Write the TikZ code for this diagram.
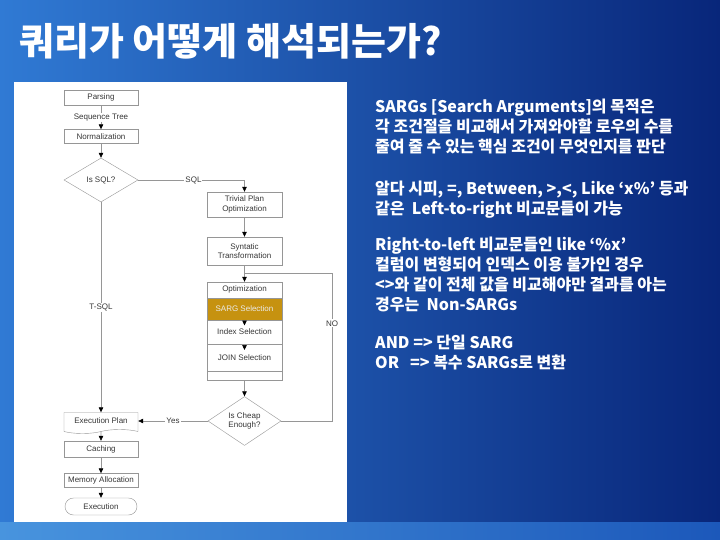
\documentclass[tikz,border=0pt]{standalone}
\usepackage{fontspec}
\newfontfamily\flowfont{Liberation Sans}
\newfontfamily\krfont{Noto Sans CJK KR}
\usetikzlibrary{positioning,shapes.geometric,shapes.symbols,shapes.misc,arrows.meta}

\definecolor{bgleft}{RGB}{48,122,212}
\definecolor{bgright}{RGB}{8,38,122}
\definecolor{stripleft}{RGB}{72,148,222}
\definecolor{stripright}{RGB}{28,88,186}
\definecolor{flowgray}{RGB}{150,150,150}
\definecolor{flowtext}{RGB}{55,55,55}
\definecolor{sarggold}{RGB}{198,146,16}

\tikzset{
  flowbox/.style={draw=flowgray,fill=white,minimum width=74pt,minimum height=15pt,
    inner sep=1pt,align=center,text=flowtext,font=\flowfont\fontsize{8}{9.5}\selectfont},
  flowdia/.style={flowbox,diamond,minimum width=74pt,minimum height=44pt,inner sep=0pt},
  flowdoc/.style={flowbox,tape,tape bend top=none,tape bend height=4pt},
  flowlbl/.style={fill=white,inner sep=1pt,text=flowtext,font=\flowfont\fontsize{8}{9.5}\selectfont},
  flowline/.style={draw=flowgray,line width=0.6pt},
  flowarr/.style={flowline,-{Triangle[length=5pt,width=4.5pt,color=black]}},
  krtxt/.style={inner sep=0pt,text=white,align=left,font=\krfont\bfseries\fontsize{16}{20}\selectfont}
}

\begin{document}
\begin{tikzpicture}[x=1pt,y=-1pt]
  % slide background
  \shade[left color=bgleft,right color=bgright] (0,0) rectangle (720,540);
  \shade[left color=stripleft,right color=stripright] (0,522) rectangle (720,540);
  \useasboundingbox (0,0) rectangle (720,540);

  % title
  \node[anchor=west,inner sep=0pt,text=white,font=\krfont\bfseries\fontsize{38}{38}\selectfont]
    (title) at (19,41) {쿼리가 어떻게 해석되는가?};

  % white panel
  \fill[white] (14,82) rectangle (347,522);

  % flow chart
  \node[flowbox] (parse) at (101,97.5) {Parsing};
  \node[flowbox,minimum height=14pt] (norm) at (101,136.5) {Normalization};
  \node[flowdia] (issql) at (101,180) {Is SQL?};
  \node[flowbox,minimum width=75pt,minimum height=25pt] (trivial) at (244.5,204.5)
    {Trivial Plan\\Optimization};
  \node[flowbox,minimum width=75pt,minimum height=28pt] (syntatic) at (244.5,251)
    {Syntatic\\Transformation};
  \node[flowbox,minimum width=75pt,minimum height=98pt] (optbox) at (244.5,331) {};
  \node[flowlbl] (optlbl) at (244.5,289.5) {Optimization};
  \node[flowbox,fill=sarggold,text=white!92!black,minimum width=75pt,minimum height=22pt]
    (sarg) at (244.5,309) {SARG Selection};
  \node[flowbox,minimum width=75pt,minimum height=24pt] (index) at (244.5,332)
    {Index Selection};
  \node[flowbox,minimum width=75pt,minimum height=27pt] (join) at (244.5,357.5)
    {JOIN Selection};
  \node[flowdia,minimum width=73pt] (cheap) at (244.5,421) {Is Cheap\\Enough?};
  \node[flowdoc,minimum height=21pt] (plan) at (101,421) {Execution Plan};
  \node[flowbox,minimum height=16pt] (cache) at (101,449) {Caching};
  \node[flowbox,minimum height=14pt] (memory) at (101,480.5) {Memory Allocation};
  \node[flowbox,rounded rectangle,minimum height=17pt] (exec) at (101,506.5) {Execution};

  \coordinate (nojoin) at (244.5,273);
  \coordinate (nocorner) at (332,273);

  \draw[flowarr] (parse) -- node[flowlbl]{Sequence Tree} (norm);
  \draw[flowarr] (norm) -- (issql);
  \draw[flowarr] (issql.east) -| node[flowlbl,pos=0.26]{SQL} (trivial.north);
  \draw[flowarr] (issql.south) -- node[flowlbl]{T-SQL} (plan.north);
  \draw[flowarr] (trivial) -- (syntatic);
  \draw[flowarr] (syntatic) -- (optbox);
  \draw[flowarr,shorten >=6.5pt] (sarg.south) -- (index.center);
  \draw[flowarr,shorten >=7.5pt] (index.south) -- (join.center);
  \draw[flowarr] (optbox) -- (cheap);
  \draw[flowarr] (cheap.west) -- node[flowlbl]{Yes} (plan.east);
  \draw[flowline] (cheap.east) -| node[flowlbl,pos=0.83]{NO} (nocorner) -- (nojoin);
  \draw[flowarr] (plan) -- (cache);
  \draw[flowarr] (cache) -- (memory);
  \draw[flowarr] (memory) -- (exec);

  % notes on the right
  \node[krtxt,anchor=north west] (p1) at (375,99)
    {SARGs [Search Arguments]의 목적은\\
     각 조건절을 비교해서 가져와야할 로우의 수를\\
     줄여 줄 수 있는 핵심 조건이 무엇인지를 판단};
  \node[krtxt,below right=26pt and 0pt of p1.south west] (p2)
    {알다 시피, =, Between, >,<, Like ‘x\%’ 등과\\
     같은~ Left-to-right 비교문들이 가능};
  \node[krtxt,below right=19pt and 0pt of p2.south west] (p3)
    {Right-to-left 비교문들인 like ‘\%x’\\
     컬럼이 변형되어 인덱스 이용 불가인 경우\\
     <>와 같이 전체 값을 비교해야만 결과를 아는\\
     경우는~ Non-SARGs};
  \node[krtxt,below right=22pt and 0pt of p3.south west] (p4)
    {AND => 단일 SARG\\
     OR~~ => 복수 SARGs로 변환};
\end{tikzpicture}
\end{document}
